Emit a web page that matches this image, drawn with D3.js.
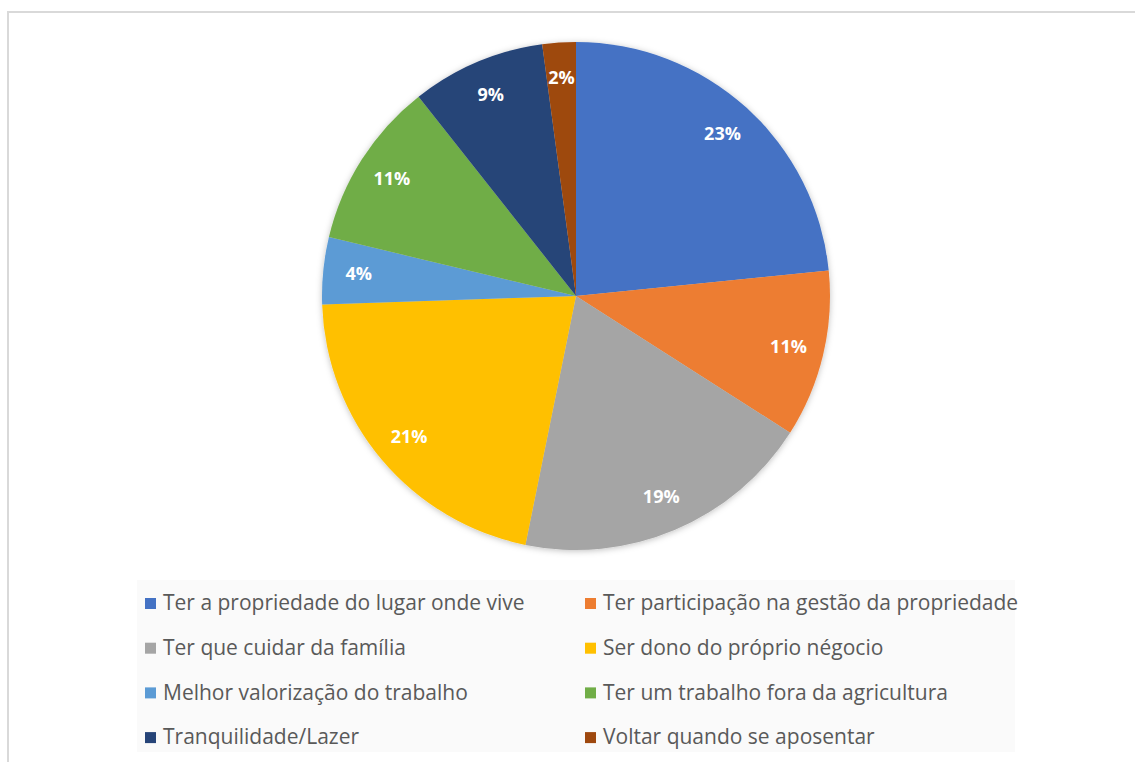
<!DOCTYPE html>
<html>
<head>
<meta charset="utf-8">
<script src="https://cdn.jsdelivr.net/npm/d3@7"></script>
<style>
  body { margin: 0; background: #fff; }
  svg { display: block; }
</style>
</head>
<body>
<div id="chart"></div>
<script>
var categories = [
  "Ter a propriedade do lugar onde vive",
  "Ter participação na gestão da propriedade",
  "Ter que cuidar da família",
  "Ser dono do próprio négocio",
  "Melhor valorização do trabalho",
  "Ter um trabalho fora da agricultura",
  "Tranquilidade/Lazer",
  "Voltar quando se aposentar"
];
var values = [11, 5, 9, 10, 2, 5, 4, 1];
var colors = ["#4472c4", "#ed7d31", "#a5a5a5", "#ffc000", "#5b9bd5", "#70ad47", "#264478", "#9e480e"];

var width = 1135,
    height = 762,
    cx = 576,
    cy = 296,
    radius = 254;

var svg = d3.select("#chart").append("svg")
    .attr("width", width)
    .attr("height", height);

// soft shadow under the pie
var defs = svg.append("defs");
var f = defs.append("filter").attr("id", "shadow")
    .attr("x", "-10%").attr("y", "-10%").attr("width", "120%").attr("height", "120%");
f.append("feDropShadow").attr("dx", 0).attr("dy", 1).attr("stdDeviation", 3)
    .attr("flood-color", "#000").attr("flood-opacity", 0.25);

// chart border (top and left visible)
svg.append("rect")
    .attr("x", 8).attr("y", 12)
    .attr("width", width).attr("height", height)
    .attr("fill", "none")
    .attr("stroke", "#d9d9d9")
    .attr("stroke-width", 2);

var total = d3.sum(values);
var pct = d3.format(".0%");

var pie = d3.pie().sort(null).value(function(d) { return d; });
var arcs = pie(values);

var arc = d3.arc().innerRadius(0).outerRadius(radius);
var labelArc = d3.arc().innerRadius(radius * 0.86).outerRadius(radius * 0.86);

var g = svg.append("g").attr("transform", "translate(" + cx + "," + cy + ")");

g.append("g").attr("filter", "url(#shadow)")
  .selectAll("path")
  .data(arcs)
  .enter().append("path")
    .attr("d", arc)
    .attr("fill", function(d, i) { return colors[i]; });

g.selectAll("text.lbl")
  .data(arcs)
  .enter().append("text")
    .attr("class", "lbl")
    .attr("transform", function(d) { return "translate(" + labelArc.centroid(d) + ")"; })
    .attr("text-anchor", "middle")
    .attr("dy", "0.35em")
    .style("font-family", "'Open Sans', sans-serif")
    .style("font-weight", "bold")
    .style("font-size", "18px")
    .style("fill", "#fff")
    .text(function(d) { return pct(d.value / total); });

// legend
var legend = svg.append("g");
legend.append("rect")
    .attr("x", 137).attr("y", 580)
    .attr("width", 878).attr("height", 172)
    .attr("fill", "#fafafa");

var item = legend.selectAll("g.item")
  .data(categories)
  .enter().append("g")
    .attr("class", "item")
    .attr("transform", function(d, i) {
      var col = i % 2, row = Math.floor(i / 2);
      return "translate(" + (col ? 585 : 145) + "," + (603 + row * 44.7) + ")";
    });

item.append("rect")
    .attr("x", 0).attr("y", -5)
    .attr("width", 11).attr("height", 11)
    .attr("fill", function(d, i) { return colors[i]; });

item.append("text")
    .attr("x", 18)
    .attr("dy", "0.35em")
    .style("font-family", "'Open Sans', sans-serif")
    .style("font-size", "21px")
    .style("fill", "#595959")
    .text(function(d) { return d; });
</script>
</body>
</html>
